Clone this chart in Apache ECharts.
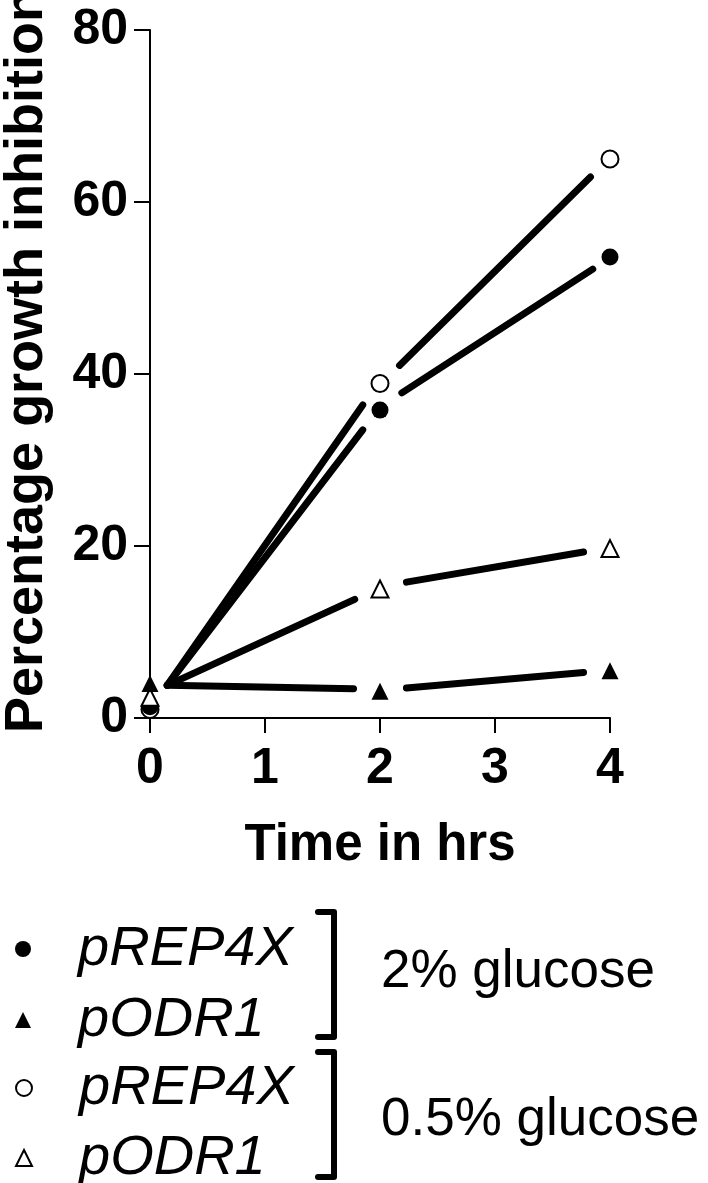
<!DOCTYPE html>
<html>
<head>
<meta charset="utf-8">
<script src="https://cdn.jsdelivr.net/npm/echarts@6/dist/echarts.min.js"></script>
<style>
  html, body { margin: 0; padding: 0; background: #fff; }
  #myChart { width: 708px; height: 1183px; }
</style>
</head>
<body>
<div id="myChart"></div>
<script>
// time points (hrs)
const timeList = [0, 2, 4];

// measured values, % growth inhibition
const rep4x_2 = [1.3, 35.8, 53.6];   // filled circle
const odr1_2 = [4.0, 3.1, 5.5];      // filled triangle
const rep4x_05 = [1.0, 38.9, 65.0];  // open circle
const odr1_05 = [2.4, 15.0, 19.7];   // open triangle

// fitted trend lines, drawn in two pieces with gaps at the 2 h markers
const fitRep4x_2 = [[[0.15, 3.8], [1.85, 33.5]], [[2.19, 37.8], [3.85, 52.2]]];
const fitOdr1_2 = [[[0.15, 3.8], [1.77, 3.4]], [[2.23, 3.5], [3.77, 5.3]]];
const fitRep4x_05 = [[[0.15, 3.8], [1.85, 36.4]], [[2.17, 41.0], [3.83, 62.9]]];
const fitOdr1_05 = [[[0.15, 3.8], [1.78, 13.8]], [[2.23, 15.8], [3.77, 19.3]]];

// legend rows (names padded so the two groups stay distinct)
const legendNames = ['pREP4X ', 'pODR1 ', 'pREP4X', 'pODR1'];
const groupLabels = ['2% glucose', '0.5% glucose'];

let myChart = echarts.init(document.getElementById('myChart'));

function pairs(vals) {
  return timeList.map((t, i) => [t, vals[i]]);
}

let lineSeries = [];
[fitRep4x_2, fitOdr1_2, fitRep4x_05, fitOdr1_05].forEach((segs, k) => {
  segs.forEach((seg, j) => {
    lineSeries.push({
      name: 'fit' + k + '_' + j,
      type: 'line',
      data: seg,
      symbol: 'none',
      silent: true,
      z: 1,
      lineStyle: { color: '#000', width: 7, cap: 'round' }
    });
  });
});

// one legend block per row, so rows keep the spacing of the figure
const legendTops = [921, 992, 1060, 1130];
let legends = legendNames.map((n, i) => ({
  data: [n],
  orient: 'vertical',
  left: 15,
  top: legendTops[i],
  padding: 0,
  itemWidth: 16,
  itemHeight: 16,
  selectedMode: false,
  textStyle: {
    fontFamily: 'Liberation Sans', fontStyle: 'italic', fontSize: 56, color: '#000',
    lineHeight: 50, padding: [0, 0, 0, 42]
  }
}));

let option = {
  backgroundColor: '#fff',
  animation: false,
  grid: { left: 150, right: 98, top: 30, bottom: 465, containLabel: false, outerBoundsMode: 'none' },
  xAxis: {
    type: 'value',
    min: 0, max: 4, interval: 1,
    name: 'Time in hrs',
    nameLocation: 'middle',
    nameGap: 102,
    nameTextStyle: { fontFamily: 'Liberation Sans', fontWeight: 'bold', fontSize: 51, color: '#000' },
    axisLine: { lineStyle: { color: '#000', width: 2 } },
    axisTick: { length: 15, lineStyle: { color: '#000', width: 2 } },
    axisLabel: { fontFamily: 'Liberation Sans', fontWeight: 'bold', fontSize: 50, color: '#000', margin: 26 },
    splitLine: { show: false }
  },
  yAxis: {
    type: 'value',
    min: 0, max: 80, interval: 20,
    name: 'Percentage growth inhibition',
    nameLocation: 'middle',
    nameGap: 96,
    nameTextStyle: {
      fontFamily: 'Liberation Sans', fontWeight: 'bold', fontSize: 54, color: '#000',
      padding: [0, 0, 0, 26]
    },
    axisLine: { show: true, lineStyle: { color: '#000', width: 2 } },
    axisTick: { show: true, length: 16, lineStyle: { color: '#000', width: 2 } },
    axisLabel: { fontFamily: 'Liberation Sans', fontWeight: 'bold', fontSize: 50, color: '#000', margin: 22 },
    splitLine: { show: false }
  },
  legend: legends,
  graphic: [
    { type: 'polyline', shape: { points: [[318, 912], [334, 912], [334, 1037], [318, 1037]] },
      style: { stroke: '#000', lineWidth: 6, fill: null, lineJoin: 'round', lineCap: 'round' } },
    { type: 'polyline', shape: { points: [[318, 1052], [334, 1052], [334, 1177], [318, 1177]] },
      style: { stroke: '#000', lineWidth: 6, fill: null, lineJoin: 'round', lineCap: 'round' } },
    { type: 'text', x: 381, y: 972,
      style: { text: groupLabels[0], font: '53px "Liberation Sans"', fill: '#000', verticalAlign: 'middle' } },
    { type: 'text', x: 381, y: 1120,
      style: { text: groupLabels[1], font: '53px "Liberation Sans"', fill: '#000', verticalAlign: 'middle' } }
  ],
  series: lineSeries.concat([
    {
      name: 'pREP4X', type: 'scatter', data: pairs(rep4x_05), symbol: 'circle', symbolSize: 17, z: 3,
      itemStyle: { color: '#fff', borderColor: '#000', borderWidth: 2, opacity: 1 }
    },
    {
      name: 'pREP4X ', type: 'scatter', data: pairs(rep4x_2), symbol: 'circle', symbolSize: 17, z: 3,
      itemStyle: { color: '#000', opacity: 1 }
    },
    {
      name: 'pODR1', type: 'scatter', data: pairs(odr1_05), symbol: 'triangle', symbolSize: 17, z: 4,
      itemStyle: { color: '#fff', borderColor: '#000', borderWidth: 2, opacity: 1 }
    },
    {
      name: 'pODR1 ', type: 'scatter', data: pairs(odr1_2), symbol: 'triangle', symbolSize: 17, z: 4,
      itemStyle: { color: '#000', opacity: 1 }
    }
  ])
};
myChart.setOption(option);
</script>
</body>
</html>
